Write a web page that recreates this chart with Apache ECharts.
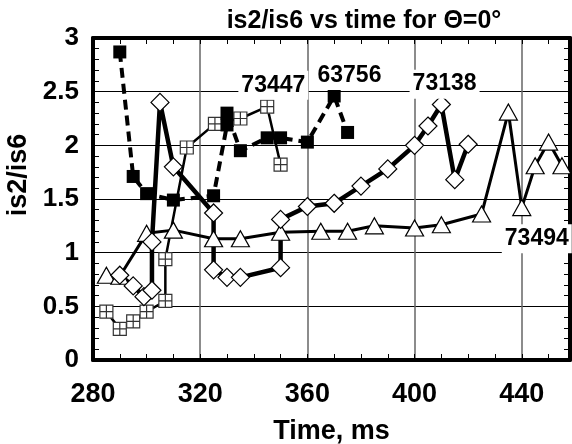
<!DOCTYPE html>
<html>
<head>
<meta charset="utf-8">
<script src="https://cdn.jsdelivr.net/npm/echarts@6/dist/echarts.min.js"></script>
<style>html,body{margin:0;padding:0;background:#fff}#c{width:572px;height:444px}</style>
</head>
<body>
<div id="c"></div>
<script>
// ---- data ----
const xTicks = [280, 320, 360, 400, 440];
const yTicks = [0, 0.5, 1, 1.5, 2, 2.5, 3];

const t63756 = [290, 295, 300, 310, 325, 330, 330, 335, 345, 350, 360, 370, 375];
const v63756 = [2.87, 1.71, 1.55, 1.49, 1.53, 2.19, 2.30, 1.95, 2.07, 2.07, 2.03, 2.46, 2.12];

const t73447 = [285, 290, 295, 300, 307, 307, 315, 325.5, 335, 345, 350];
const v73447 = [0.45, 0.29, 0.36, 0.45, 0.55, 0.94, 1.98, 2.20, 2.25, 2.36, 1.82];

const t73138 = [290, 295, 299, 302, 302, 305, 310, 325, 325, 330, 335, 350, 350, 360, 370, 380, 390, 400, 405, 410, 415, 420];
const v73138 = [0.79, 0.69, 0.59, 0.65, 1.10, 2.40, 1.80, 1.37, 0.84, 0.77, 0.77, 0.86, 1.31, 1.43, 1.46, 1.62, 1.78, 2.00, 2.18, 2.38, 1.68, 2.01];

const t73494 = [285, 290, 300, 310, 325, 335, 350, 365, 375, 385, 400, 410, 425, 435, 440, 445, 450, 455];
const v73494 = [0.79, 0.78, 1.18, 1.21, 1.13, 1.13, 1.19, 1.20, 1.20, 1.25, 1.23, 1.26, 1.36, 2.31, 1.42, 1.81, 2.03, 1.81];

const shotNames = ['73494', '73447', '73138', '63756'];
const titleText = 'is2/is6 vs time for \u0398=0\u00B0';
const xName = 'Time, ms';
const yName = 'is2/is6';

// ---- build ----
const FONT = '"Liberation Sans", Arial, sans-serif';
const zip = (a, b) => a.map((x, i) => [x, b[i]]);
const XMIN = 280, XMAX = 458;

const labelStyle = {
  show: true, position: 'inside', color: '#000', fontFamily: FONT,
  fontWeight: 'bold', fontSize: 23, backgroundColor: '#fff', padding: [3, 3],
  formatter: p => p.name
};
function tag(name, coord) {
  return { symbol: 'rect', symbolSize: 1, itemStyle: { color: 'rgba(0,0,0,0)' }, label: labelStyle,
    data: [{ name: name, coord: coord }] };
}

const option = {
  animation: false,
  backgroundColor: '#fff',
  title: {
    text: titleText, left: 359, top: 4, textAlign: 'center',
    textStyle: { fontFamily: FONT, fontWeight: 'bold', fontSize: 25, color: '#000' }
  },
  grid: { left: 93, right: 2, top: 38, bottom: 84, containLabel: false, outerBoundsMode: 'none' },
  xAxis: [
    { type: 'value', position: 'bottom', min: XMIN, max: XMAX, interval: 10,
      name: xName, nameLocation: 'middle', nameGap: 58,
      nameTextStyle: { fontFamily: FONT, fontWeight: 'bold', fontSize: 27, color: '#000' },
      axisLine: { show: true, onZero: false, lineStyle: { color: '#000', width: 4 } },
      axisTick: { show: true, inside: true, length: 6, lineStyle: { color: '#000', width: 1 } },
      axisLabel: { show: true, margin: 21, showMaxLabel: false, color: '#000', fontFamily: FONT, fontWeight: 'bold', fontSize: 27,
        formatter: v => (xTicks.indexOf(v) >= 0 ? String(v) : '') },
      splitLine: { show: false } },
    { type: 'value', position: 'top', min: XMIN, max: XMAX, interval: 10,
      axisLine: { show: true, onZero: false, lineStyle: { color: '#000', width: 4 } },
      axisTick: { show: true, inside: true, length: 6, lineStyle: { color: '#000', width: 1 } },
      axisLabel: { show: false }, splitLine: { show: false } },
    { type: 'value', position: 'bottom', min: XMIN, max: XMAX, interval: 40,
      axisLine: { show: false }, axisTick: { show: false }, axisLabel: { show: false },
      splitLine: { show: true, lineStyle: { color: '#666', width: 1.5 } } }
  ],
  yAxis: [
    { type: 'value', position: 'left', min: 0, max: 3, interval: 0.5,
      axisLine: { show: true, onZero: false, lineStyle: { color: '#000', width: 4 } },
      axisTick: { show: true, inside: true, length: 6, lineStyle: { color: '#000', width: 1 } },
      minorTick: { show: true, splitNumber: 5, length: 6, lineStyle: { color: '#000', width: 1 } },
      axisLabel: { show: true, margin: 14, padding: [6, 0, 0, 0], color: '#000', fontFamily: FONT, fontWeight: 'bold', fontSize: 26,
        formatter: v => (yTicks.indexOf(v) >= 0 ? String(v) : '') },
      splitLine: { show: true, lineStyle: { color: '#000', width: 1 } } },
    { type: 'value', position: 'right', min: 0, max: 3, interval: 0.5,
      axisLine: { show: true, onZero: false, lineStyle: { color: '#000', width: 4 } },
      axisTick: { show: true, inside: true, length: 6, lineStyle: { color: '#000', width: 1 } },
      minorTick: { show: true, splitNumber: 5, length: 6, lineStyle: { color: '#000', width: 1 } },
      axisLabel: { show: false }, splitLine: { show: false } }
  ],
  graphic: [
    { type: 'text', x: 19, y: 175, rotation: Math.PI / 2,
      style: { text: yName, font: 'bold 27px ' + FONT, fill: '#000',
        textAlign: 'center', textVerticalAlign: 'middle', align: 'center', verticalAlign: 'middle' } }
  ],
  series: [
    { name: shotNames[0], type: 'line', data: zip(t73494, v73494),
      symbol: 'triangle', symbolSize: [18, 16],
      itemStyle: { color: '#fff', borderColor: '#000', borderWidth: 1.2 },
      lineStyle: { color: '#000', width: 3 },
      markPoint: tag(shotNames[0], [445.6, 1.13]) },
    { name: shotNames[1], type: 'line', data: zip(t73447, v73447),
      symbol: 'path://M0,0H10V10H0Z M5,0V10 M0,5H10', symbolSize: 13, symbolKeepAspect: true,
      itemStyle: { color: '#fff', borderColor: '#333', borderWidth: 1.2 },
      lineStyle: { color: '#000', width: 2.5 },
      markPoint: tag(shotNames[1], [347.3, 2.56]) },
    { name: shotNames[2], type: 'line', data: zip(t73138, v73138),
      symbol: 'diamond', symbolSize: [18, 18],
      itemStyle: { color: '#fff', borderColor: '#000', borderWidth: 1.2 },
      lineStyle: { color: '#000', width: 4.5 },
      markPoint: tag(shotNames[2], [411.2, 2.57]) },
    { name: shotNames[3], type: 'line', data: zip(t63756, v63756),
      symbol: 'rect', symbolSize: 13,
      itemStyle: { color: '#000', borderColor: '#000', borderWidth: 0 },
      lineStyle: { color: '#000', width: 4, type: [10, 6] },
      markPoint: tag(shotNames[3], [375.7, 2.65]) }
  ]
};

const chart = echarts.init(document.getElementById('c'), null, { renderer: 'canvas' });
chart.setOption(option);
</script>
</body>
</html>
